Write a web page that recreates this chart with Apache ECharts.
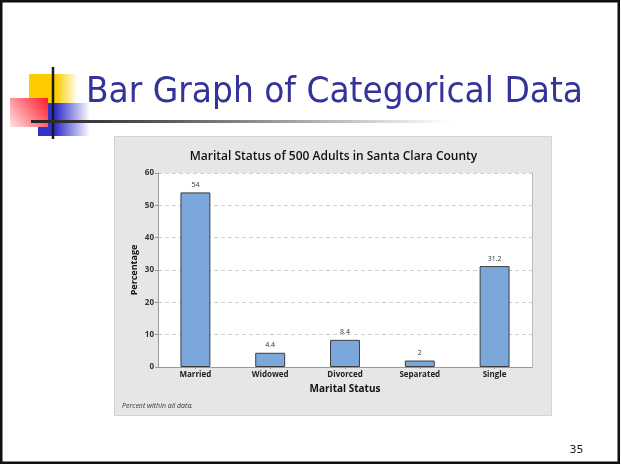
<!DOCTYPE html>
<html>
<head>
<meta charset="utf-8">
<script src="https://cdn.jsdelivr.net/npm/echarts@6/dist/echarts.min.js"></script>
<style>
html,body{margin:0;padding:0;background:#fff;}
#c{width:621px;height:465px;}
</style>
</head>
<body>
<div id="c"></div>
<script>
const slideTitle = 'Bar Graph of Categorical Data';
const chartTitle = 'Marital Status of 500 Adults in Santa Clara County';
const categories = ['Married', 'Widowed', 'Divorced', 'Separated', 'Single'];
const percentages = [54, 4.4, 8.4, 2, 31.2];
const xAxisName = 'Marital Status';
const yAxisName = 'Percentage';
const footnote = 'Percent within all data.';
const pageNumber = '35';

const FONT = '"Open Sans", "Noto Sans", sans-serif';
const TITLE_FONT = '36px "DejaVu Sans", sans-serif';
const ctx = document.createElement('canvas').getContext('2d');
ctx.font = TITLE_FONT;
const titleScale = 497 / ctx.measureText(slideTitle).width;

const chart = echarts.init(document.getElementById('c'), null, {renderer: 'canvas'});

chart.setOption({
  backgroundColor: '#fff',
  animation: false,
  graphic: [
    {type: 'rect', z: -10, shape: {x: 114.5, y: 136.5, width: 437, height: 279},
     style: {fill: '#e6e6e6', stroke: '#d4d4d4', lineWidth: 1}},
    {type: 'rect', z: 10, shape: {x: 29, y: 74, width: 49, height: 29},
     style: {fill: new echarts.graphic.LinearGradient(0, 0, 1, 0, [
       {offset: 0, color: '#ffcc00'}, {offset: 0.55, color: '#ffcc00'}, {offset: 1, color: 'rgba(255,255,255,1)'}])}},
    {type: 'rect', z: 10, shape: {x: 38, y: 103, width: 52, height: 33},
     style: {fill: new echarts.graphic.LinearGradient(0, 0, 1, 0, [
       {offset: 0, color: '#3333cc'}, {offset: 0.35, color: '#3333cc'}, {offset: 1, color: 'rgba(255,255,255,1)'}])}},
    {type: 'rect', z: 11, shape: {x: 10, y: 98, width: 38, height: 29},
     style: {fill: new echarts.graphic.LinearGradient(1, 0, 0, 1, [
       {offset: 0, color: '#ff1a2a'}, {offset: 1, color: '#fde3e3'}])}},
    {type: 'line', z: 12, shape: {x1: 53, y1: 67, x2: 53, y2: 139},
     style: {stroke: '#1a1a1a', lineWidth: 2.5}},
    {type: 'rect', z: 12, shape: {x: 31, y: 120, width: 420, height: 3},
     style: {fill: new echarts.graphic.LinearGradient(0, 0, 1, 0, [
       {offset: 0, color: '#222'}, {offset: 0.3, color: '#555'}, {offset: 1, color: 'rgba(255,255,255,1)'}])}},
    {type: 'text', z: 13, x: 86, y: 93, scaleX: titleScale,
     style: {text: slideTitle, fill: '#333399', font: TITLE_FONT,
             align: 'left', verticalAlign: 'middle'}},
    {type: 'text', z: 13, x: 333.5, y: 156.5,
     style: {text: chartTitle, fill: '#111', font: '600 12px ' + FONT,
             align: 'center', verticalAlign: 'middle'}},
    {type: 'text', z: 13, x: 122, y: 406,
     style: {text: footnote, fill: '#333', font: 'italic 7px ' + FONT,
             align: 'left', verticalAlign: 'middle'}},
    {type: 'text', z: 13, x: 576.5, y: 450,
     style: {text: pageNumber, fill: '#222', font: '11px "DejaVu Sans", sans-serif',
             align: 'center', verticalAlign: 'middle'}},
    {type: 'rect', z: 20, shape: {x: 1.25, y: 1.25, width: 617.5, height: 461.5},
     style: {fill: 'none', stroke: '#111', lineWidth: 2.5}}
  ],
  grid: {left: 158, top: 173, width: 374, height: 194, show: true,
         backgroundColor: '#fff', borderWidth: 0},
  xAxis: {
    type: 'category', data: categories,
    name: xAxisName, nameLocation: 'middle', nameGap: 17,
    nameTextStyle: {fontFamily: FONT, fontSize: 10, fontWeight: 'bold', color: '#111'},
    axisLine: {show: true, lineStyle: {color: '#999', width: 1}},
    axisTick: {show: true, alignWithLabel: true, length: 2, lineStyle: {color: '#999'}},
    axisLabel: {fontFamily: FONT, fontSize: 8, fontWeight: 'bold', color: '#222', margin: 4},
    splitLine: {show: false}
  },
  yAxis: [{
    type: 'value', min: 0, max: 60, interval: 10,
    name: yAxisName, nameLocation: 'middle', nameGap: 19, nameRotate: 90,
    nameMoveOverlap: false,
    nameTextStyle: {fontFamily: FONT, fontSize: 9, fontWeight: 'bold', color: '#111'},
    axisLine: {show: true, lineStyle: {color: '#999', width: 1}},
    axisTick: {show: true, length: 3, lineStyle: {color: '#999'}},
    axisLabel: {fontFamily: FONT, fontSize: 8, fontWeight: 'bold', color: '#333', margin: 4},
    splitLine: {show: true, lineStyle: {color: '#d0d0d0', type: [4, 3], width: 1}}
  }, {
    type: 'value', min: 0, max: 60, interval: 10, position: 'right',
    axisLine: {show: true, lineStyle: {color: '#bbb', width: 1}},
    axisTick: {show: false}, axisLabel: {show: false}, splitLine: {show: false}
  }],
  series: [{
    type: 'bar', data: percentages, barWidth: '40%', yAxisIndex: 0,
    itemStyle: {color: '#7ba7da', borderColor: '#3c3c3c', borderWidth: 1},
    label: {show: true, position: 'top', distance: 4, fontFamily: FONT,
            fontSize: 7, color: '#333'}
  }]
});
</script>
</body>
</html>
